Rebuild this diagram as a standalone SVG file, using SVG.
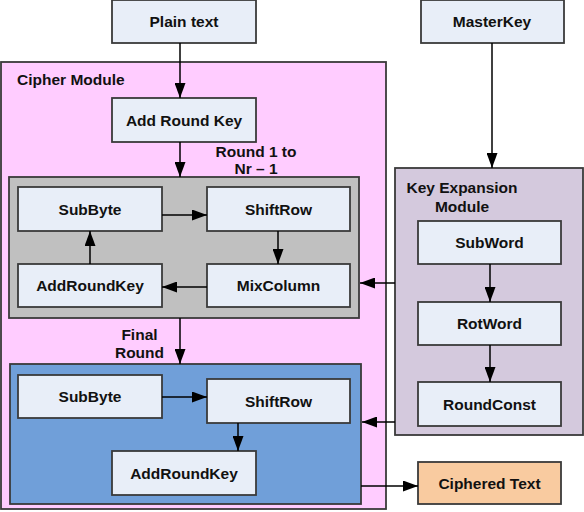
<svg xmlns="http://www.w3.org/2000/svg" width="584" height="512" viewBox="0 0 584 512">
<defs>
<marker id="arr" markerWidth="15" markerHeight="11" refX="15" refY="5.5" orient="auto" markerUnits="userSpaceOnUse">
<path d="M0,0 L15,5.5 L0,11 Z" fill="#000"/>
</marker>
<style>
.c{stroke:#3a3a3a;stroke-width:1.8}
.n{fill:#e8eef8;stroke:#3a3a3a;stroke-width:1.8}
.t{font-family:"Liberation Sans",Arial,sans-serif;font-weight:bold;font-size:15.5px;fill:#111;text-anchor:middle}
.l{font-family:"Liberation Sans",Arial,sans-serif;font-weight:bold;font-size:15.5px;fill:#111}
.e{fill:none;stroke:#000;stroke-width:1.5;marker-end:url(#arr)}
</style>
</defs>
<rect width="584" height="512" fill="#fff"/>
<g id="cipher-module">
<rect class="c" x="1" y="62" width="385" height="447" fill="#ffccff"/>
<text class="l" x="17" y="85">Cipher Module</text>
</g>
<g id="round-box">
<rect class="c" x="9" y="177" width="350" height="141" fill="#c0c0c0"/>
</g>
<g id="final-box">
<rect class="c" x="10" y="364" width="351" height="140" fill="#709fd9"/>
</g>
<g id="key-expansion">
<rect class="c" x="395" y="168" width="188" height="267" fill="#d4c9dd"/>
<text class="t" x="462" y="193">Key Expansion</text>
<text class="t" x="462" y="212">Module</text>
</g>
<g id="plain-text"><rect class="n" x="112" y="0" width="144" height="43"/><text class="t" x="184" y="27">Plain text</text></g>
<g id="master-key"><rect class="n" x="421" y="0" width="143" height="43"/><text class="t" x="492" y="27">MasterKey</text></g>
<g id="add-round-key"><rect class="n" x="112" y="98" width="144" height="44"/><text class="t" x="184" y="125.5">Add Round Key</text></g>
<g id="subbyte1"><rect class="n" x="18" y="187" width="144" height="44"/><text class="t" x="90" y="214.5">SubByte</text></g>
<g id="shiftrow1"><rect class="n" x="207" y="187" width="143" height="44"/><text class="t" x="278.5" y="214.5">ShiftRow</text></g>
<g id="addroundkey1"><rect class="n" x="18" y="264" width="144" height="43"/><text class="t" x="90" y="291">AddRoundKey</text></g>
<g id="mixcolumn1"><rect class="n" x="207" y="264" width="143" height="43"/><text class="t" x="278.5" y="291">MixColumn</text></g>
<g id="subbyte2"><rect class="n" x="18" y="375" width="144" height="43"/><text class="t" x="90" y="402">SubByte</text></g>
<g id="shiftrow2"><rect class="n" x="207" y="379" width="143" height="44"/><text class="t" x="278.5" y="406.5">ShiftRow</text></g>
<g id="addroundkey2"><rect class="n" x="112" y="451" width="144" height="44"/><text class="t" x="184" y="478.5">AddRoundKey</text></g>
<g id="subword"><rect class="n" x="418" y="221" width="143" height="43"/><text class="t" x="489.5" y="248">SubWord</text></g>
<g id="rotword"><rect class="n" x="418" y="302" width="143" height="43"/><text class="t" x="489.5" y="329">RotWord</text></g>
<g id="roundconst"><rect class="n" x="418" y="382" width="143" height="44"/><text class="t" x="489.5" y="409.5">RoundConst</text></g>
<g id="ciphered-text"><rect x="418" y="462" width="143" height="42" fill="#f9cba0" stroke="#3a3a3a" stroke-width="1.8"/><text class="t" x="489.5" y="488.5">Ciphered Text</text></g>
<g id="connectors">
<line class="e" x1="180" y1="43" x2="180" y2="98"/>
<line class="e" x1="180" y1="142" x2="180" y2="177"/>
<line class="e" x1="162" y1="215" x2="207" y2="215"/>
<line class="e" x1="278" y1="231" x2="278" y2="264"/>
<line class="e" x1="207" y1="287" x2="162" y2="287"/>
<line class="e" x1="90" y1="264" x2="90" y2="231"/>
<line class="e" x1="180" y1="318" x2="180" y2="364"/>
<line class="e" x1="162" y1="397" x2="207" y2="397"/>
<line class="e" x1="238" y1="423" x2="238" y2="451"/>
<line class="e" x1="492" y1="43" x2="492" y2="168"/>
<line class="e" x1="490" y1="264" x2="490" y2="302"/>
<line class="e" x1="490" y1="345" x2="490" y2="382"/>
<line class="e" x1="395" y1="283" x2="360" y2="283"/>
<line class="e" x1="395" y1="422" x2="362" y2="422"/>
<line class="e" x1="361" y1="486" x2="418" y2="486"/>
</g>
<g id="labels">
<text class="t" x="256" y="157">Round 1 to</text>
<text class="t" x="256" y="174">Nr – 1</text>
<text class="t" x="139.5" y="340">Final</text>
<text class="t" x="139.5" y="358">Round</text>
</g>
</svg>
